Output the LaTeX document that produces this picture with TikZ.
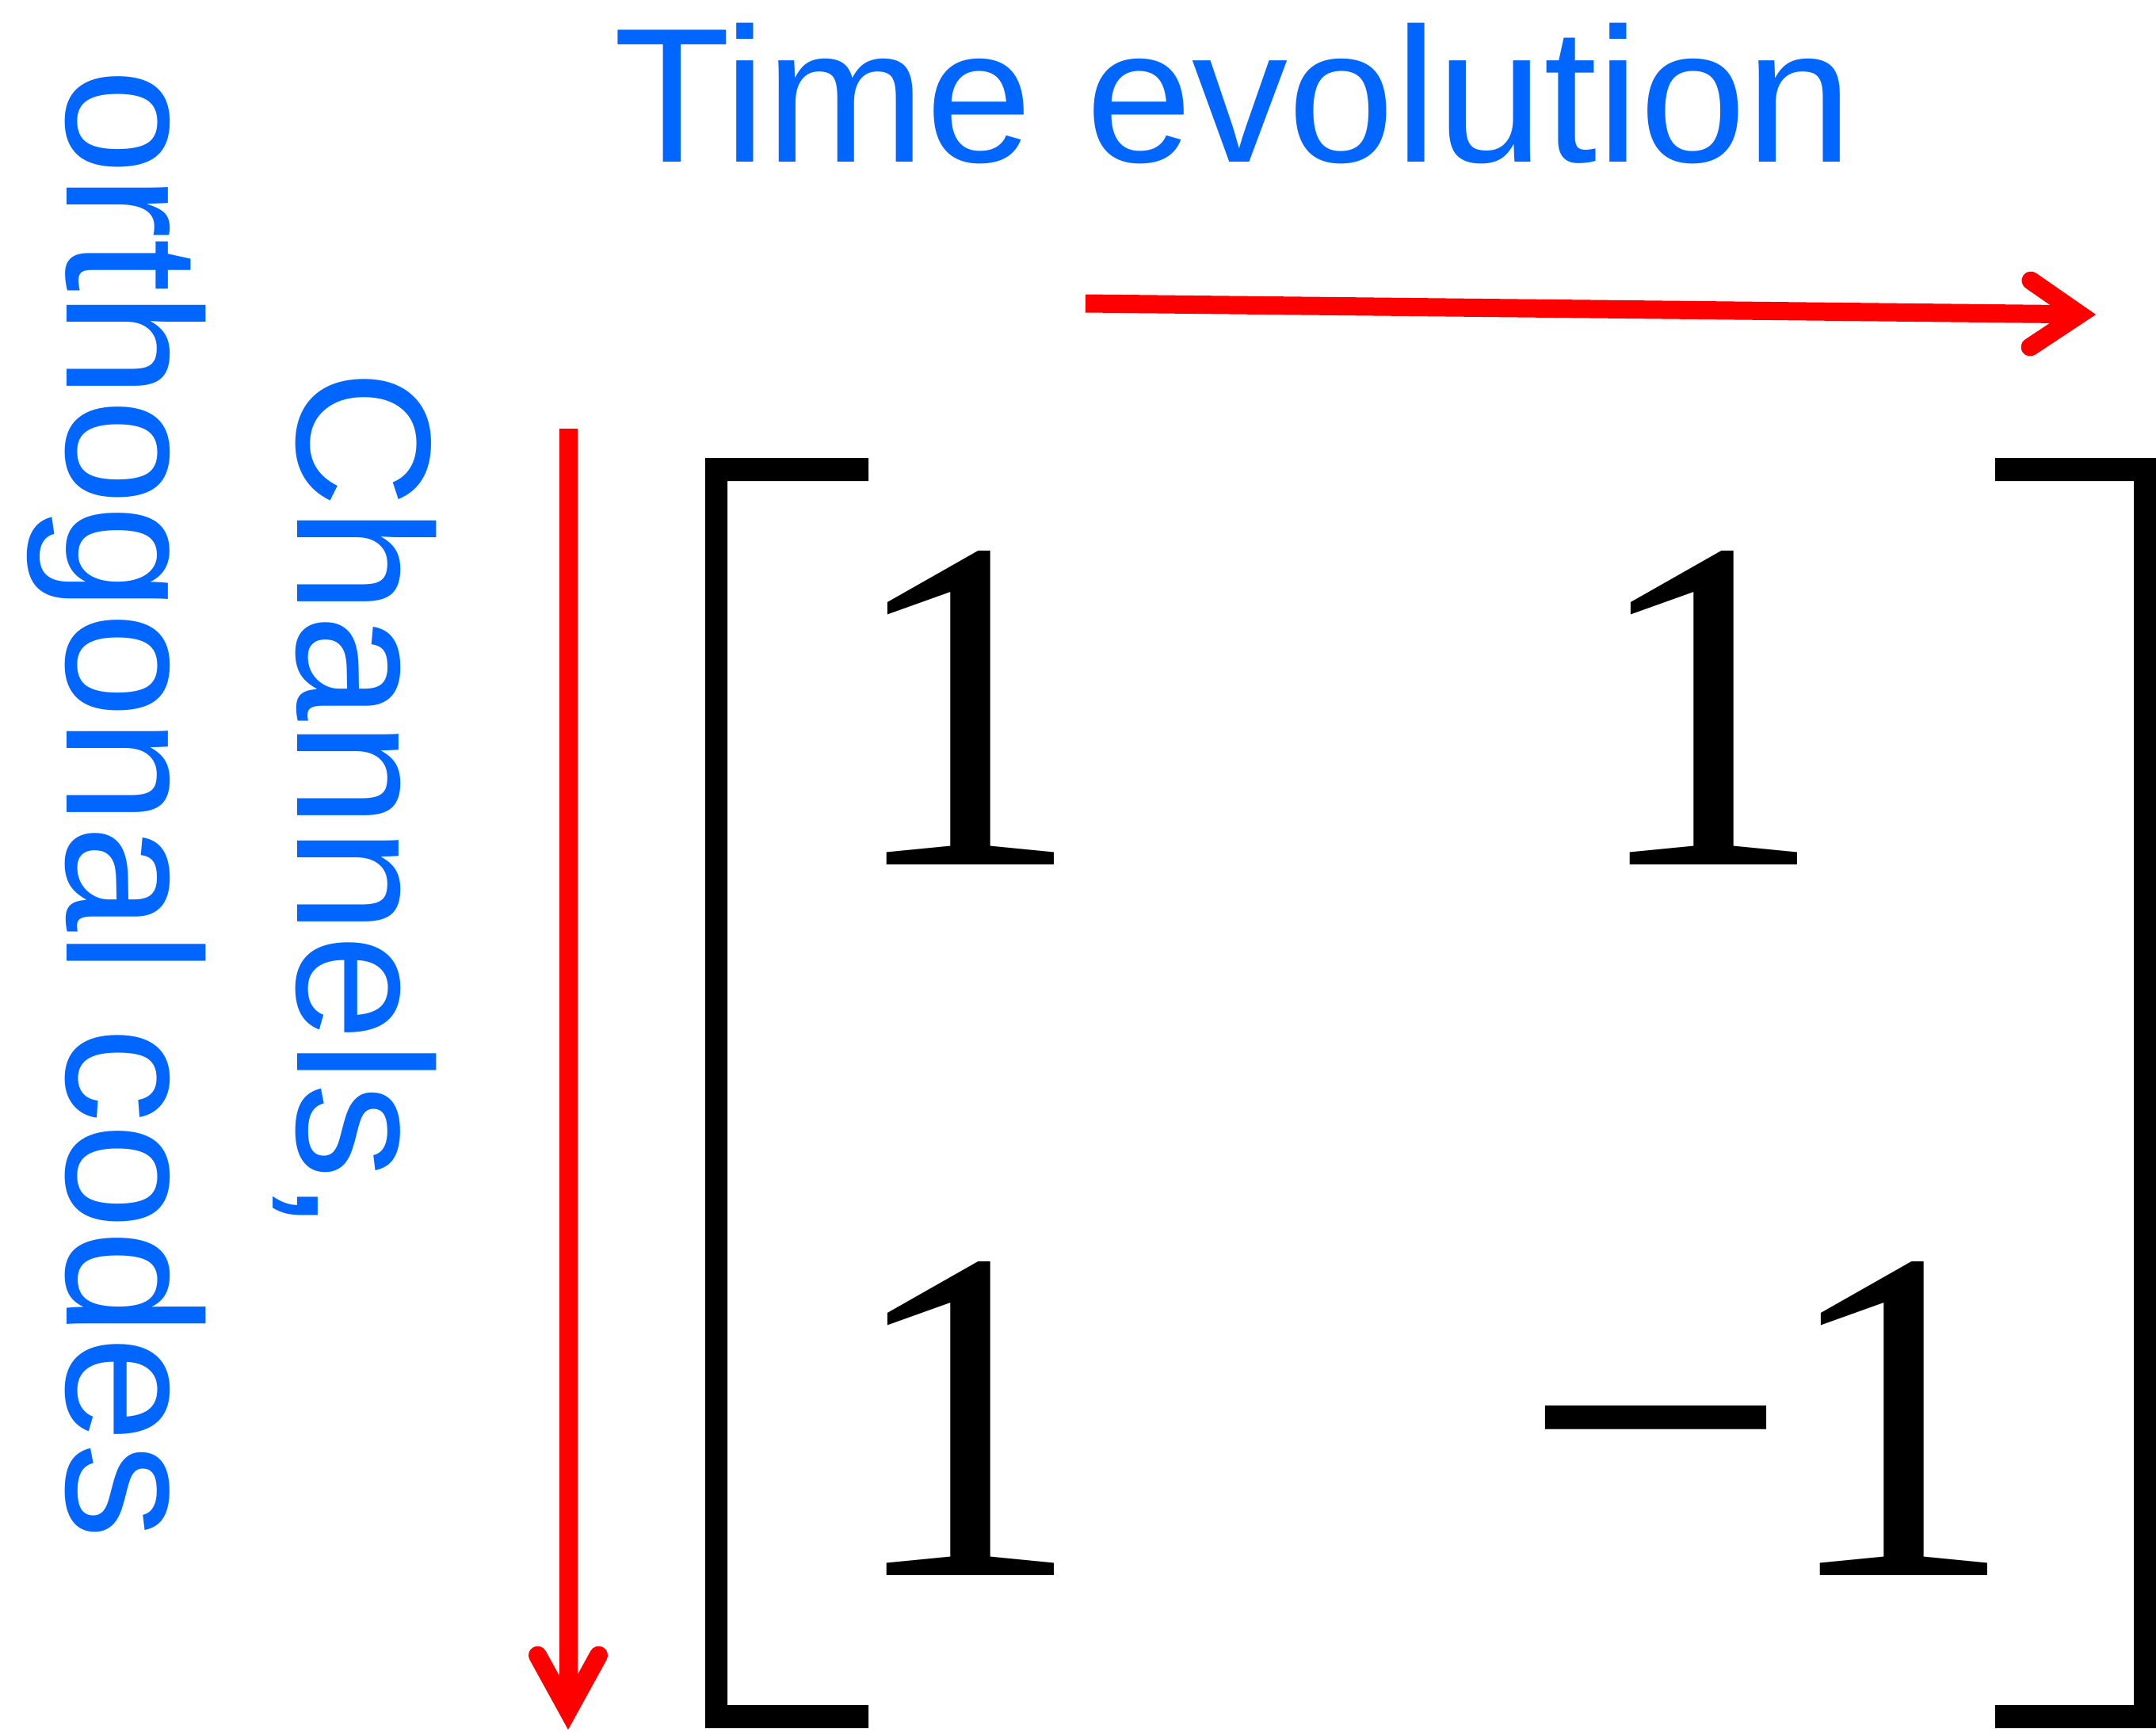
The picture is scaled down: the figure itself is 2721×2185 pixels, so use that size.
\documentclass[tikz,border=0pt]{standalone}
\usepackage{fontspec}
\setmainfont{Liberation Serif}
\newfontfamily\arialf{Liberation Sans}
\usetikzlibrary{arrows.meta}
\definecolor{tblue}{RGB}{0,102,255}
\definecolor{tred}{RGB}{255,0,0}
\begin{document}
\begin{tikzpicture}[x=1pt,y=1pt,
  lbl/.style={inner sep=0pt, text=tblue, anchor=base west, font=\arialf\fontsize{242}{290}\selectfont},
  digit/.style={inner sep=0pt, anchor=base west, font=\fontsize{600}{720}\selectfont},
  redarrow/.style={draw=tred, line width=23pt},
  htip/.style={-{Straight Barb[length=62pt,width=84pt,line cap=round,line join=miter]}},
  vtip/.style={-{Straight Barb[length=70pt,width=77pt,line cap=round,line join=miter]}},
  brk/.style={fill=black, draw=none}]
\useasboundingbox (0,0) rectangle (2721,-2185);
% labels
\node[lbl] (time) at (774,-204) {Time evolution};
\node[lbl, rotate=-90] (codes) at (84,-86) {orthogonal codes};
\node[lbl, rotate=-90] (chan) at (375,-466) {Channels,};
% arrows
\coordinate (hs) at (1370,-383);
\coordinate (he) at (2645,-397);
\draw[redarrow, htip] (hs) -- (he);
\coordinate (vs) at (717,-541);
\coordinate (ve) at (717,-2183);
\draw[redarrow, vtip] (vs) -- (ve);
% brackets
\fill[brk] (890,-578) -- (1096,-578) -- (1096,-607) -- (918,-607) -- (918,-2152) -- (1096,-2152) -- (1096,-2181) -- (890,-2181) -- cycle;
\fill[brk] (2721,-578) -- (2518,-578) -- (2518,-607) -- (2693,-607) -- (2693,-2152) -- (2518,-2152) -- (2518,-2181) -- (2721,-2181) -- cycle;
% entries
\node[digit] (a11) at (1066,-1091) {1};
\node[digit] (a12) at (2004,-1091) {1};
\node[digit] (a21) at (1066,-1988) {1};
\node[digit] (a22) at (1920,-1988) {−\kern-14pt 1};
\end{tikzpicture}
\end{document}
